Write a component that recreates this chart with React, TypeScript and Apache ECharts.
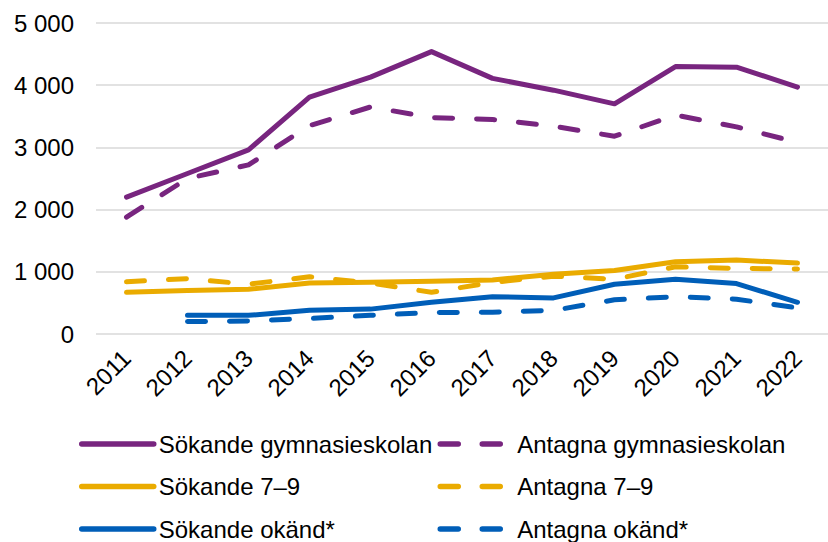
import React, { useEffect, useRef } from "react";
import * as echarts from "echarts";

const years = ["2011", "2012", "2013", "2014", "2015", "2016", "2017", "2018", "2019", "2020", "2021", "2022"];
const sokandeGym = [2200, 2580, 2960, 3810, 4130, 4540, 4110, 3920, 3700, 4300, 4290, 3970];
const antagnaGym = [1880, 2500, 2720, 3350, 3650, 3480, 3450, 3340, 3180, 3520, 3330, 3080];
const sokande79 = [670, 700, 720, 820, 830, 850, 870, 960, 1020, 1160, 1190, 1140];
const antagna79 = [840, 890, 800, 920, 820, 670, 830, 930, 880, 1080, 1055, 1045];
const sokandeOkand = [null, 300, 300, 380, 400, 510, 600, 580, 800, 880, 810, 510];
const antagnaOkand = [null, 200, 210, 250, 300, 345, 350, 380, 550, 600, 560, 420];
const yTicks = [0, 1000, 2000, 3000, 4000, 5000];

const PURPLE = "#78257F";
const YELLOW = "#EAAB00";
const BLUE = "#005EB8";
const FONT = "'Liberation Sans', Arial, sans-serif";

function fmt(v: number) {
  return String(v).replace(/\B(?=(\d{3})+(?!\d))/g, " ");
}

function mk(name: string, data: (number | null)[], color: string, dashed: boolean) {
  return {
    name,
    type: "line",
    data,
    symbol: "none",
    showSymbol: false,
    connectNulls: false,
    lineStyle: {
      color,
      width: 5,
      type: dashed ? [18, 24] : "solid",
      cap: "round",
      join: "round",
    },
    itemStyle: { color },
  };
}

export default function App() {
  const ref = useRef<HTMLDivElement>(null);
  useEffect(() => {
    if (!ref.current) return;
    const chart = echarts.init(ref.current, null, { renderer: "svg" });
    const legendCommon = {
      orient: "vertical",
      top: 432,
      itemWidth: 72,
      itemHeight: 24,
      itemGap: 18.5,
      padding: 0,
      selectedMode: false,
      textStyle: { fontSize: 24, fontFamily: FONT, color: "#000", lineHeight: 24 },
      lineStyle: { cap: "round", width: 5.5 },
      itemStyle: { opacity: 0 },
    };
    chart.setOption({
      animation: false,
      textStyle: { fontFamily: FONT },
      grid: { left: 96, top: 23, width: 735, height: 311, containLabel: false },
      legend: [
        {
          ...legendCommon,
          left: 79,
          data: ["Sökande gymnasieskolan", "Sökande 7–9", "Sökande okänd*"],
        },
        {
          ...legendCommon,
          left: 437.5,
          data: ["Antagna gymnasieskolan", "Antagna 7–9", "Antagna okänd*"],
        },
      ],
      xAxis: {
        type: "category",
        data: years,
        boundaryGap: true,
        axisLine: { show: false },
        axisTick: { show: false },
        axisLabel: {
          rotate: 45,
          fontSize: 24,
          fontFamily: FONT,
          color: "#000",
          margin: 20,
          interval: 0,
        },
      },
      yAxis: {
        type: "value",
        min: yTicks[0],
        max: yTicks[yTicks.length - 1],
        interval: 1000,
        axisLine: { show: false },
        axisTick: { show: false },
        splitLine: { lineStyle: { color: "#D9D9D9", width: 1.5 } },
        axisLabel: {
          fontSize: 24,
          fontFamily: FONT,
          color: "#000",
          margin: 22,
          formatter: (v: number) => fmt(v),
        },
      },
      series: [
        mk("Sökande gymnasieskolan", sokandeGym, PURPLE, false),
        mk("Antagna gymnasieskolan", antagnaGym, PURPLE, true),
        mk("Sökande 7–9", sokande79, YELLOW, false),
        mk("Antagna 7–9", antagna79, YELLOW, true),
        mk("Sökande okänd*", sokandeOkand, BLUE, false),
        mk("Antagna okänd*", antagnaOkand, BLUE, true),
      ],
    });
    return () => chart.dispose();
  }, []);
  return (
    <div
      ref={ref}
      style={{ position: "absolute", left: 0, top: 0, width: 828, height: 542 }}
    />
  );
}
